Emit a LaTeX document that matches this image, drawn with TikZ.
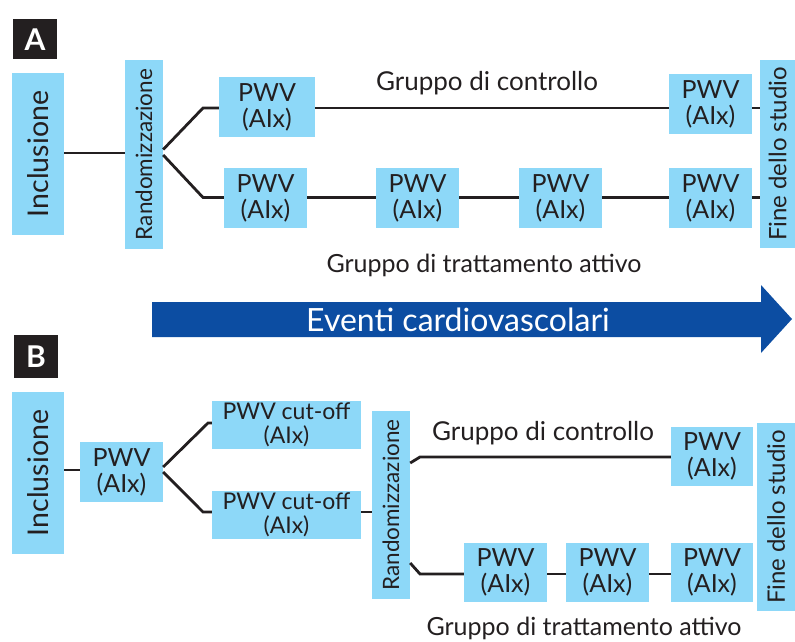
\documentclass[tikz,border=0pt]{standalone}
\usepackage{fontspec}
\setmainfont{Lato}
\usetikzlibrary{calc}
\definecolor{boxblue}{HTML}{8DD8F8}
\definecolor{arrowblue}{HTML}{0C4DA2}
\definecolor{ink}{HTML}{231F20}
\newcommand\fsz[2]{\fontsize{#1}{#2}\selectfont}
\begin{document}
\begin{tikzpicture}[x=1pt,y=-1pt,
  bx/.style={fill=boxblue, inner sep=0pt, text=ink, align=center},
  pwv/.style={bx, minimum width=83pt, minimum height=60pt, font=\fsz{25}{26}},
  cut/.style={bx, minimum width=149pt, minimum height=48pt, font=\fsz{23}{24}},
  incl/.style={bx, minimum width=52pt, minimum height=162pt, font=\fsz{28.5}{30}},
  rand/.style={bx, minimum width=38pt, minimum height=189pt, font=\fsz{22.5}{24}},
  fin/.style={bx, minimum width=36pt, minimum height=188pt, font=\fsz{24}{26}},
  lab/.style={fill=ink, text=white, inner sep=0pt, minimum width=44pt, minimum height=40pt, font=\bfseries\fsz{30}{30}},
  grp/.style={inner sep=0pt, text=ink, font=\fsz{25}{26}},
  conn/.style={draw=ink, line width=2.8pt}]
\useasboundingbox (0,0) rectangle (795,642);

% ---------- Panel A ----------
\node[lab] (labA) at (35,39.5) {A};
\node[incl] (inclA) at (38,154) {\rotatebox{90}{Inclusione}};
\node[rand] (randA) at (144,154.5) {\rotatebox{90}{Randomizzazione}};
\node[pwv, minimum width=96pt] (pA1) at (267,107) {PWV\\(AIx)};
\node[pwv] (pA2) at (710.5,104) {PWV\\(AIx)};
\node[pwv] (pA3) at (265.5,198) {PWV\\(AIx)};
\node[pwv] (pA4) at (417.5,198) {PWV\\(AIx)};
\node[pwv] (pA5) at (560.5,198) {PWV\\(AIx)};
\node[pwv] (pA6) at (710.5,198) {PWV\\(AIx)};
\node[fin, minimum width=35pt] (finA) at (777.5,154) {\rotatebox{90}{Fine dello studio}};
\node[grp, font=\fsz{26}{27}] (gcA) at (487,83) {Gruppo di controllo};
\node[grp] (gtA) at (484,265) {Gruppo di trattamento attivo};

\coordinate (yA0) at (0,153);
\coordinate (yA1) at (0,108);
\coordinate (yA2) at (0,197.5);
\coordinate (kA1) at (203,108);
\coordinate (kA2) at (203,197.5);

\draw[conn] (inclA.east |- yA0) -- (randA.west |- yA0);
\draw[conn] ($(randA.east)+(0,-5)$) -- (kA1) -- (pA1.west |- yA1);
\draw[conn] ($(randA.east)+(0,0.5)$) -- (kA2) -- (pA3.west |- yA2);
\draw[conn] (pA1.east |- yA1) -- (pA2.west |- yA1);
\draw[conn] (pA2.east |- yA1) -- (finA.west |- yA1);
\draw[conn] (pA3.east |- yA2) -- (pA4.west |- yA2);
\draw[conn] (pA4.east |- yA2) -- (pA5.west |- yA2);
\draw[conn] (pA5.east |- yA2) -- (pA6.west |- yA2);
\draw[conn] (pA6.east |- yA2) -- (finA.west |- yA2);

% ---------- Arrow ----------
\fill[arrowblue] (152,302) -- (761,302) -- (761,285) -- (792,319) -- (761,353) -- (761,337) -- (152,337) -- cycle;
\node[inner sep=0pt, text=white, font=\fsz{32}{34}] (evt) at (458,320) {Eventi cardiovascolari};

% ---------- Panel B ----------
\node[lab, minimum height=43pt] (labB) at (36,356.5) {B};
\node[incl] (inclB) at (38,473) {\rotatebox{90}{Inclusione}};
\node[pwv] (pB0) at (121.5,472) {PWV\\(AIx)};
\node[cut] (cB1) at (286.5,425) {PWV cut-off\\(AIx)};
\node[cut] (cB2) at (286.5,514.5) {PWV cut-off\\(AIx)};
\node[rand, minimum height=188pt] (randB) at (391,505) {\rotatebox{90}{Randomizzazione}};
\node[pwv, minimum width=82pt, minimum height=59pt] (pB1) at (712,456.5) {PWV\\(AIx)};
\node[pwv, minimum height=59pt] (pB2) at (505.5,572.5) {PWV\\(AIx)};
\node[pwv, minimum height=59pt] (pB3) at (607.5,572.5) {PWV\\(AIx)};
\node[pwv, minimum width=82pt, minimum height=59pt] (pB4) at (712,572.5) {PWV\\(AIx)};
\node[fin, minimum width=38pt] (finB) at (776,517) {\rotatebox{90}{Fine dello studio}};
\node[grp, font=\fsz{26}{27}] (gcB) at (543,433) {Gruppo di controllo};
\node[grp] (gtB) at (584,628) {Gruppo di trattamento attivo};

\coordinate (yB0) at (0,470);
\coordinate (yB1) at (0,423);
\coordinate (yB2) at (0,512);
\coordinate (yB3) at (0,457);
\coordinate (yB4) at (0,574);
\coordinate (kB1) at (208,423);
\coordinate (kB2) at (203,512);
\coordinate (kB3) at (420,457);
\coordinate (kB4) at (420,574);

\draw[conn] (inclB.east |- yB0) -- (pB0.west |- yB0);
\draw[conn] ($(pB0.east)+(0,-5)$) -- (kB1) -- (cB1.west |- yB1);
\draw[conn] ($(pB0.east)+(0,0)$) -- (kB2) -- (cB2.west |- yB2);
\draw[conn] (cB2.east |- yB2) -- (randB.west |- yB2);
\draw[conn] (randB.east |- 0,463) -- (kB3) -- (pB1.west |- yB3);
\draw[conn] (randB.east |- 0,563) -- (kB4) -- (pB2.west |- yB4);
\draw[conn] (pB2.east |- yB4) -- (pB3.west |- yB4);
\draw[conn] (pB3.east |- yB4) -- (pB4.west |- yB4);
\end{tikzpicture}
\end{document}
